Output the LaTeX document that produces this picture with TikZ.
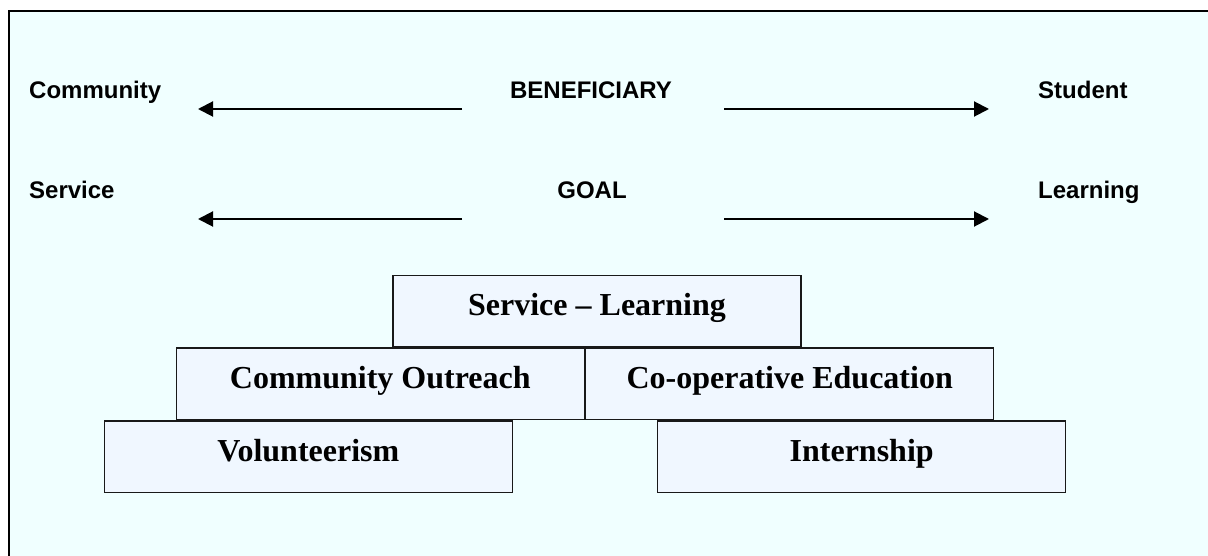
\documentclass[tikz,border=0pt]{standalone}
\usepackage{fontspec}
\setmainfont{Liberation Serif}
\setsansfont{Liberation Sans}
\usepackage{tikz}
\usetikzlibrary{positioning,arrows.meta}

\definecolor{bgcyan}{HTML}{F0FFFF}
\definecolor{boxblue}{HTML}{F0F7FF}

\tikzset{
    lbl/.style={font=\sffamily\bfseries\fontsize{24}{26}\selectfont, inner sep=0pt},
    tier/.style={draw=black!90, line width=1.4pt, fill=boxblue, minimum width=408pt, minimum height=71.5pt,
        inner sep=0pt, text height=21pt, text depth=11pt, font=\bfseries\fontsize{32}{34}\selectfont},
    arr/.style={line width=2pt, -{Triangle[length=15pt,width=15pt]}}
}

\begin{document}
\begin{tikzpicture}[x=1pt,y=-1pt]
        \useasboundingbox (0,0) rectangle (1208,556);
        \clip (0,0) rectangle (1208,556);
        \draw[line width=2pt, fill=bgcyan] (8.5,11) rectangle (1220,570); % Frame

        \node[lbl, anchor=base west] (comm) at (29,99) {Community};
        \node[lbl, anchor=base] (bene) at (591,99) {BENEFICIARY};
        \node[lbl, anchor=base west] (stud) at (1038,99) {Student};
        \node[lbl, anchor=base west] (serv) at (29,199) {Service};
        \node[lbl, anchor=base] (goal) at (592,199) {GOAL};
        \node[lbl, anchor=base west] (lear) at (1038,199) {Learning};

        \coordinate (bl) at (462,109);
        \coordinate (bt) at (198,109);
        \coordinate (br) at (724,109);
        \coordinate (bs) at (989,109);
        \coordinate (gl) at (462,219);
        \coordinate (gt) at (198,219);
        \coordinate (gr) at (724,219);
        \coordinate (gs) at (989,219);
        \draw[arr] (bl) -- (bt); % Beneficiary
        \draw[arr] (br) -- (bs);
        \draw[arr] (gl) -- (gt); % Goal
        \draw[arr] (gr) -- (gs);

        % Pyramid
        \node[tier] (sl) at (597,311) {Service -- Learning};
        \node[tier, below left=0pt and 12pt of sl.south] (co) {Community Outreach};
        \node[tier, right=0pt of co] (coop) {Co-operative Education};
        \node[tier, below right=0pt and -72pt of co.south west] (vol) {Volunteerism};
        \node[tier, below left=0pt and -72pt of coop.south east] (intern) {Internship};
    \end{tikzpicture}
\end{document}
